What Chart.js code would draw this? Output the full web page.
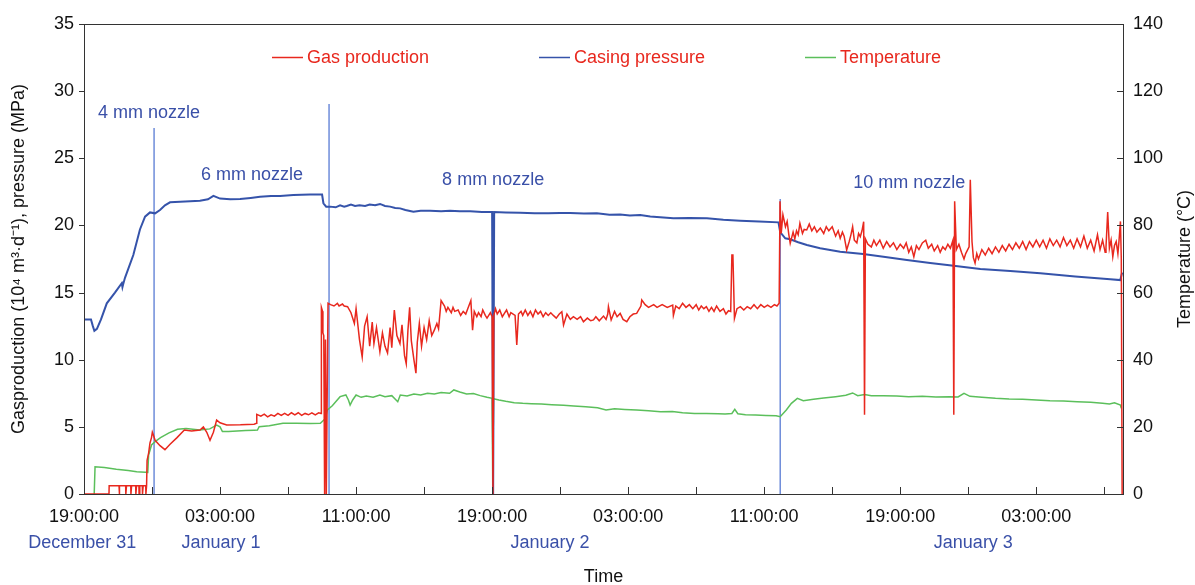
<!DOCTYPE html>
<html>
<head>
<meta charset="utf-8">
<title>Gas production, casing pressure and temperature</title>
<script src="https://cdn.jsdelivr.net/npm/chart.js@4.4.1/dist/chart.umd.min.js"></script>
<style>
  html, body { margin: 0; padding: 0; background: #fff; }
  #wrap { width: 1195px; height: 585px; }
</style>
</head>
<body>
<div id="wrap"><canvas id="chart"></canvas></div>
<script>
// x values are hours counted from 19:00:00 on December 31
const xTickHours = [0, 8, 16, 24, 32, 40, 48, 56];
const xTickLabels = ['19:00:00', '03:00:00', '11:00:00', '19:00:00', '03:00:00', '11:00:00', '19:00:00', '03:00:00'];
const minorTickHours = [0, 4, 8, 12, 16, 20, 24, 28, 32, 36, 40, 44, 48, 52, 56, 60];
const dayLabels = ['December 31', 'January 1', 'January 2', 'January 3'];
const dayLabelHours = [-0.1, 8.06, 27.4, 52.3];

const nozzleLabels = ['4 mm nozzle', '6 mm nozzle', '8 mm nozzle', '10 mm nozzle'];
const nozzleLabelHours = [0.82, 6.88, 21.06, 45.24];
const nozzleLabelLevels = [28.37, 23.75, 23.38, 23.16];

// thin vertical marks where the nozzle was changed
const changeHours = [4.12, 14.41, 40.94];
const changeTops = [27.26, 29.05, 21.97];

// gas production, 10^4 m3/d  [hour, value]
const gasProduction = [
  [0, 0], [1.47, 0], [1.48, 0.62], [2.06, 0.62], [2.07, 0], [2.10, 0.62], [2.45, 0.62], [2.46, 0], [2.50, 0.62],
  [2.75, 0.62], [2.76, 0], [2.80, 0.62], [3.04, 0.62], [3.05, 0], [3.09, 0.62], [3.23, 0.62], [3.24, 0], [3.28, 0.62],
  [3.43, 0.62], [3.44, 0], [3.48, 0.62], [3.63, 0.62], [3.64, 0], [3.68, 0.62], [3.70, 0.62], [3.71, 2.5],
  [3.80, 3.05], [3.88, 3.8], [3.97, 4.2], [4.02, 4.6], [4.08, 4.4], [4.18, 4.0], [4.47, 3.6], [4.76, 3.3],
  [5.06, 3.7], [5.47, 4.2], [5.90, 4.77], [6.33, 4.7], [6.82, 4.77], [7.02, 5.0], [7.22, 4.6], [7.41, 4.0],
  [7.61, 4.6], [7.80, 5.5], [8.00, 5.3], [8.39, 5.14], [9.20, 5.15], [10.00, 5.2], [10.15, 5.26], [10.16, 5.93],
  [10.4, 5.8], [10.6, 5.95], [10.8, 5.75], [11.0, 5.9], [11.2, 5.8], [11.4, 6.0], [11.6, 5.85], [11.8, 6.0],
  [12.0, 5.85], [12.2, 6.05], [12.4, 5.9], [12.6, 6.05], [12.8, 5.85], [13.0, 6.0], [13.2, 5.9], [13.4, 6.05],
  [13.6, 5.9], [13.8, 6.05], [13.94, 6.0], [13.96, 13.9], [14.03, 13.6], [14.05, 12.0], [14.10, 11.8], [14.15, 0],
  [14.20, 11.5], [14.25, 0], [14.35, 14.2], [14.5, 14.1], [14.7, 14.0], [14.9, 14.2], [15.0, 14.0], [15.2, 14.15],
  [15.3, 14.0], [15.5, 13.95], [15.7, 13.5], [15.9, 12.7], [16.0, 13.8], [16.2, 11.5], [16.36, 10.2], [16.5, 12.5],
  [16.65, 13.2], [16.8, 11.0], [16.95, 12.8], [17.05, 11.2], [17.2, 12.4], [17.4, 10.6], [17.55, 12.0], [17.7, 11.0],
  [17.85, 10.5], [18.0, 12.4], [18.1, 10.9], [18.25, 13.7], [18.4, 11.8], [18.58, 11.2], [18.7, 12.6], [18.85, 10.3],
  [18.95, 9.7], [19.05, 12.2], [19.15, 13.9], [19.25, 11.4], [19.4, 10.0], [19.52, 9.0], [19.6, 11.3], [19.72, 12.7],
  [19.85, 11.0], [20.0, 12.4], [20.15, 11.5], [20.3, 12.9], [20.45, 11.8], [20.6, 12.2], [20.75, 12.7], [20.85, 12.3],
  [21.0, 14.4], [21.2, 14.0], [21.3, 13.6], [21.4, 13.9], [21.6, 13.5], [21.7, 13.9], [21.8, 13.6], [22.0, 13.7],
  [22.15, 13.3], [22.3, 13.6], [22.45, 13.4], [22.6, 13.9], [22.75, 14.4], [22.85, 12.2], [22.95, 13.6], [23.1, 13.2],
  [23.2, 13.5], [23.35, 13.2], [23.45, 13.7], [23.6, 13.3], [23.7, 13.1], [23.9, 13.5], [24.0, 13.2], [24.05, 0],
  [24.1, 13.3], [24.2, 13.8], [24.3, 13.4], [24.45, 13.7], [24.6, 13.2], [24.75, 13.5], [24.85, 13.7], [25.0, 13.2],
  [25.1, 13.5], [25.35, 13.3], [25.45, 11.1], [25.55, 13.4], [25.7, 13.6], [25.8, 13.3], [25.95, 13.7], [26.1, 13.3],
  [26.25, 13.6], [26.4, 13.2], [26.55, 13.7], [26.7, 13.4], [26.85, 13.6], [27.0, 13.2], [27.15, 13.5], [27.3, 13.3],
  [27.45, 13.5], [27.6, 13.3], [27.77, 13.1], [27.95, 13.4], [28.1, 13.57], [28.2, 12.58], [28.4, 13.4], [28.6, 13.0],
  [28.78, 13.2], [29.0, 13.0], [29.2, 13.2], [29.37, 12.83], [29.6, 13.1], [29.8, 12.9], [29.96, 12.96], [30.1, 13.2],
  [30.3, 12.9], [30.55, 13.25], [30.7, 13.0], [30.8, 13.4], [30.84, 13.95], [31.0, 12.96], [31.2, 13.6], [31.35, 13.2],
  [31.53, 13.45], [31.7, 13.0], [31.92, 12.83], [32.1, 13.2], [32.3, 13.4], [32.5, 13.45], [32.75, 14.0], [32.8, 14.45],
  [33.0, 14.1], [33.2, 13.9], [33.5, 14.1], [33.7, 13.9], [34.0, 14.1], [34.3, 13.9], [34.62, 14.07], [34.66, 13.3],
  [34.8, 14.0], [35.0, 13.8], [35.2, 14.2], [35.4, 13.9], [35.6, 14.1], [35.8, 13.8], [36.0, 14.1], [36.15, 13.7],
  [36.3, 14.0], [36.45, 13.8], [36.6, 13.95], [36.75, 13.6], [36.9, 13.9], [37.05, 13.6], [37.2, 14.0], [37.4, 13.6],
  [37.6, 13.8], [37.75, 13.4], [37.9, 13.65], [38.03, 13.6], [38.1, 17.8], [38.16, 17.8], [38.25, 13.08], [38.4, 13.8],
  [38.6, 13.95], [38.8, 13.7], [39.0, 13.95], [39.2, 13.8], [39.4, 14.1], [39.6, 13.8], [39.8, 14.1], [40.0, 13.9],
  [40.2, 14.07], [40.4, 13.9], [40.6, 14.1], [40.75, 14.0], [40.88, 14.2], [40.93, 21.8], [41.0, 19.4], [41.1, 20.8],
  [41.25, 19.9], [41.35, 20.3], [41.45, 19.3], [41.53, 18.66], [41.7, 19.5], [41.8, 19.0], [41.9, 19.6], [42.0, 19.3],
  [42.1, 20.15], [42.25, 19.4], [42.35, 19.7], [42.5, 19.66], [42.65, 20.1], [42.8, 19.6], [42.95, 19.9], [43.1, 19.5],
  [43.3, 19.8], [43.5, 19.4], [43.65, 19.9], [43.8, 19.6], [44.0, 19.9], [44.2, 19.2], [44.35, 19.6], [44.47, 19.04],
  [44.6, 19.5], [44.7, 19.2], [44.85, 18.17], [45.0, 18.8], [45.1, 19.3], [45.2, 19.9], [45.3, 18.9], [45.45, 18.7],
  [45.55, 19.4], [45.65, 19.16], [45.75, 19.6], [45.85, 20.28], [45.9, 5.9], [45.95, 19.0], [46.1, 18.6], [46.3, 18.4],
  [46.45, 18.9], [46.6, 18.5], [46.8, 18.9], [47.0, 18.3], [47.2, 18.8], [47.4, 18.4], [47.6, 18.7], [47.8, 18.2],
  [48.0, 18.6], [48.2, 18.3], [48.35, 18.7], [48.5, 18.0], [48.65, 18.4], [48.8, 17.67], [48.95, 18.5], [49.1, 18.2],
  [49.3, 18.7], [49.5, 18.9], [49.65, 18.3], [49.85, 18.6], [50.0, 18.1], [50.2, 18.5], [50.35, 18.0], [50.5, 18.4],
  [50.65, 18.2], [50.8, 18.6], [50.95, 18.3], [51.1, 18.9], [51.15, 5.9], [51.2, 21.8], [51.3, 18.2], [51.45, 18.6],
  [51.6, 18.0], [51.75, 17.5], [51.85, 17.9], [52.05, 18.4], [52.12, 23.4], [52.22, 18.8], [52.3, 17.6], [52.4, 17.2],
  [52.5, 17.9], [52.6, 17.5], [52.8, 18.2], [53.0, 17.8], [53.2, 18.3], [53.4, 17.9], [53.6, 18.4], [53.8, 18.0],
  [54.0, 18.5], [54.2, 18.1], [54.4, 18.6], [54.6, 18.2], [54.8, 18.7], [55.0, 18.3], [55.2, 18.8], [55.4, 18.2],
  [55.6, 18.8], [55.8, 18.4], [56.0, 18.9], [56.2, 18.4], [56.4, 18.9], [56.6, 18.3], [56.8, 19.0], [57.0, 18.5],
  [57.2, 18.9], [57.4, 18.4], [57.6, 19.1], [57.8, 18.5], [58.0, 18.9], [58.2, 18.3], [58.4, 19.0], [58.6, 18.4],
  [58.8, 19.2], [59.0, 18.3], [59.2, 18.9], [59.4, 18.1], [59.6, 19.3], [59.75, 18.2], [59.9, 18.9], [60.05, 18.0],
  [60.1, 18.4], [60.2, 21.0], [60.3, 18.3], [60.4, 18.9], [60.5, 17.67], [60.6, 18.5], [60.7, 18.8], [60.8, 17.9],
  [60.85, 18.6], [60.95, 20.3], [61.0, 17.5], [61.05, 0]
];

// casing pressure, MPa  [hour, value]
const casingPressure = [
  [0, 13.0], [0.41, 13.0], [0.52, 12.5], [0.61, 12.15], [0.76, 12.3], [1.0, 13.0], [1.34, 14.2], [1.82, 15.0],
  [2.22, 15.7], [2.26, 15.4], [2.3, 15.6], [2.41, 16.1], [2.9, 17.8], [3.29, 19.7], [3.59, 20.65], [3.88, 20.97],
  [4.18, 20.9], [4.47, 21.15], [4.76, 21.5], [5.06, 21.72], [5.65, 21.77], [6.24, 21.8], [6.82, 21.84], [7.29, 21.95],
  [7.61, 22.2], [8.0, 22.0], [8.6, 21.95], [9.18, 21.96], [9.8, 22.05], [10.35, 22.14], [11.0, 22.2], [11.53, 22.2],
  [12.31, 22.26], [13.29, 22.3], [13.88, 22.31], [14.0, 22.3], [14.08, 21.65], [14.24, 21.4], [14.47, 21.4],
  [14.8, 21.35], [15.06, 21.5], [15.3, 21.4], [15.45, 21.45], [15.7, 21.55], [15.94, 21.45], [16.2, 21.5],
  [16.53, 21.45], [16.8, 21.55], [17.12, 21.5], [17.41, 21.6], [17.7, 21.45], [18.0, 21.4], [18.3, 21.3],
  [18.59, 21.27], [18.9, 21.15], [19.37, 21.02], [19.8, 21.1], [20.35, 21.1], [21.0, 21.05], [21.53, 21.1],
  [22.1, 21.05], [22.71, 21.05], [23.4, 21.0], [24.0, 21.0], [24.06, 0], [24.12, 21.0], [24.8, 20.97],
  [25.65, 20.95], [26.5, 20.9], [27.29, 20.9], [28.0, 20.93], [28.59, 20.92], [29.4, 20.88], [30.16, 20.9],
  [30.9, 20.8], [31.53, 20.82], [32.1, 20.74], [32.71, 20.77], [33.3, 20.66], [33.88, 20.6], [34.66, 20.53],
  [35.6, 20.55], [36.63, 20.53], [37.6, 20.42], [38.59, 20.35], [39.7, 20.3], [40.84, 20.23], [40.94, 19.5],
  [41.24, 19.04], [41.53, 18.97], [42.0, 18.75], [42.51, 18.54], [43.29, 18.3], [44.47, 18.04], [45.82, 17.87],
  [47.12, 17.65], [48.39, 17.42], [49.76, 17.2], [51.14, 17.0], [52.71, 16.75], [54.47, 16.6], [56.24, 16.43],
  [58.29, 16.2], [60.35, 16.0], [60.94, 15.93], [61.05, 16.5]
];

// temperature, degC  [hour, value]
const temperature = [
  [0.60, 0], [0.62, 0], [0.65, 8.1], [1.2, 7.9], [1.9, 7.4], [2.6, 7.0], [3.1, 6.65], [3.6, 6.5], [3.75, 6.45],
  [3.8, 11.6], [3.97, 14.6], [4.18, 15.6], [4.5, 16.8], [5.0, 18.2], [5.5, 19.3], [6.0, 19.5], [6.8, 19.1],
  [7.4, 19.4], [7.8, 20.55], [8.0, 20.0], [8.14, 18.6], [8.5, 18.6], [9.0, 18.8], [9.5, 18.9], [10.0, 19.0],
  [10.2, 19.06], [10.3, 20.05], [10.9, 20.3], [11.7, 21.06], [12.5, 21.1], [13.3, 21.0], [13.9, 21.06],
  [14.2, 22.5], [14.3, 25.0], [14.6, 26.3], [15.06, 29.0], [15.4, 29.5], [15.55, 28.0], [15.65, 26.5],
  [15.8, 28.0], [16.0, 29.5], [16.3, 28.8], [16.6, 29.2], [17.0, 28.8], [17.4, 29.5], [17.7, 29.0], [18.1, 29.3],
  [18.45, 27.5], [18.6, 29.5], [19.0, 29.2], [19.4, 29.8], [19.8, 29.5], [20.2, 30.0], [20.6, 29.8], [21.0, 30.2],
  [21.5, 30.0], [21.75, 31.0], [22.1, 30.4], [22.5, 29.8], [22.9, 29.9], [23.3, 29.3], [23.7, 28.8], [24.0, 28.5],
  [24.04, 0], [24.08, 28.4], [24.4, 28.0], [24.8, 27.6], [25.3, 27.2], [25.8, 27.0], [26.3, 26.9], [26.9, 26.8],
  [27.5, 26.6], [28.2, 26.4], [28.8, 26.2], [29.5, 26.0], [30.2, 25.7], [30.7, 25.0], [31.2, 25.4], [31.8, 25.2],
  [32.5, 25.0], [33.2, 24.8], [33.9, 24.5], [34.6, 24.6], [35.2, 24.2], [35.9, 24.0], [36.6, 24.0], [37.3, 23.9],
  [37.7, 23.8], [38.1, 24.0], [38.27, 25.2], [38.45, 23.9], [38.9, 23.6], [39.5, 23.5], [40.1, 23.4], [40.7, 23.3],
  [40.94, 23.0], [41.3, 25.0], [41.6, 27.0], [41.95, 28.5], [42.3, 27.8], [42.9, 28.2], [43.5, 28.6], [44.2, 29.0],
  [44.8, 29.4], [45.2, 30.1], [45.5, 29.3], [45.9, 29.6], [46.3, 29.3], [47.0, 29.3], [47.8, 29.2], [48.5, 29.0],
  [49.3, 29.1], [50.1, 28.9], [50.9, 29.0], [51.4, 28.9], [51.75, 30.0], [52.1, 29.1], [52.8, 28.8], [53.6, 28.5],
  [54.4, 28.3], [55.2, 28.2], [56.0, 28.0], [56.8, 27.8], [57.6, 27.7], [58.4, 27.5], [59.2, 27.3], [59.9, 27.0],
  [60.3, 26.8], [60.6, 27.2], [60.95, 26.5], [61.0, 25.5]
];

const RED = '#e8281e';
const BLUE = '#3553aa';
const GREEN = '#5bbf5b';
const LABEL_BLUE = '#3a50a8';
const FONT = '"Liberation Sans", Arial, sans-serif';

function toPoints(series) {
  return series.map(p => ({ x: p[0], y: p[1] }));
}

// frame, inner tick marks and all free text
const decorations = {
  id: 'decorations',
  afterDatasetsDraw(chart) {
    const { ctx, chartArea: a, scales } = chart;
    const x = scales.x, y = scales.y, y2 = scales.y2;
    ctx.save();
    ctx.strokeStyle = '#333';
    ctx.lineWidth = 1;
    ctx.strokeRect(a.left + 0.5, a.top + 0.5, a.right - a.left, a.bottom - a.top);
    ctx.beginPath();
    minorTickHours.forEach(h => {
      const px = Math.round(x.getPixelForValue(h)) + 0.5;
      ctx.moveTo(px, a.bottom);
      ctx.lineTo(px, a.bottom - 7);
    });
    y.ticks.forEach(t => {
      const py = Math.round(y.getPixelForValue(t.value)) + 0.5;
      ctx.moveTo(a.left - 5, py);
      ctx.lineTo(a.left, py);
    });
    y2.ticks.forEach(t => {
      const py = Math.round(y2.getPixelForValue(t.value)) + 0.5;
      ctx.moveTo(a.right - 6, py);
      ctx.lineTo(a.right, py);
    });
    ctx.stroke();

    ctx.font = '18px ' + FONT;
    ctx.textBaseline = 'middle';

    // date line under the time labels
    ctx.textAlign = 'center';
    ctx.fillStyle = LABEL_BLUE;
    dayLabels.forEach((s, i) => ctx.fillText(s, x.getPixelForValue(dayLabelHours[i]), 543));
    ctx.fillStyle = '#111';
    ctx.fillText('Time', (a.left + a.right) / 2, 577);

    // nozzle notes
    ctx.textAlign = 'left';
    ctx.fillStyle = LABEL_BLUE;
    nozzleLabels.forEach((s, i) => {
      ctx.fillText(s, x.getPixelForValue(nozzleLabelHours[i]), y.getPixelForValue(nozzleLabelLevels[i]));
    });

    // legend: coloured line, red text
    const legendX = [272, 539, 805];
    chart.data.datasets.slice(0, 3).forEach((ds, i) => {
      ctx.strokeStyle = ds.borderColor;
      ctx.lineWidth = 1.5;
      ctx.beginPath();
      ctx.moveTo(legendX[i], 57.5);
      ctx.lineTo(legendX[i] + 31, 57.5);
      ctx.stroke();
      ctx.fillStyle = RED;
      ctx.fillText(ds.label, legendX[i] + 35, 58);
    });

    // axis titles
    ctx.fillStyle = '#111';
    ctx.textAlign = 'center';
    ctx.save();
    ctx.translate(19, (a.top + a.bottom) / 2);
    ctx.rotate(-Math.PI / 2);
    ctx.fillText('Gasproduction (10\u2074 m\u00b3\u00b7d\u207b\u00b9), pressure (MPa)', 0, 0);
    ctx.restore();
    ctx.save();
    ctx.translate(1185, (a.top + a.bottom) / 2);
    ctx.rotate(-Math.PI / 2);
    ctx.fillText('Temperature (\u00b0C)', 0, 0);
    ctx.restore();
    ctx.restore();
  }
};

const changeSets = changeHours.map((h, i) => ({
  label: 'nozzle change',
  data: [{ x: h, y: 0 }, { x: h, y: changeTops[i] }],
  borderColor: '#4a6fd0',
  borderWidth: 1.2,
  yAxisID: 'y'
}));

new Chart(document.getElementById('chart'), {
  type: 'line',
  data: {
    datasets: [
      { label: 'Gas production', data: toPoints(gasProduction), borderColor: RED, borderWidth: 1.5, yAxisID: 'y' },
      { label: 'Casing pressure', data: toPoints(casingPressure), borderColor: BLUE, borderWidth: 2, yAxisID: 'y' },
      { label: 'Temperature', data: toPoints(temperature), borderColor: GREEN, borderWidth: 1.5, yAxisID: 'y2' },
      ...changeSets
    ]
  },
  options: {
    responsive: true,
    maintainAspectRatio: false,
    animation: false,
    events: [],
    layout: { padding: { top: 24, left: 0, right: 0, bottom: 0 } },
    elements: { point: { radius: 0 }, line: { tension: 0 } },
    plugins: { legend: { display: false }, tooltip: { enabled: false } },
    scales: {
      x: {
        type: 'linear',
        min: 0,
        max: 61.1,
        grid: { display: false, drawTicks: false },
        border: { display: false },
        afterBuildTicks: s => { s.ticks = xTickHours.map(v => ({ value: v })); },
        afterFit: s => { s.height = 91; },
        ticks: {
          autoSkip: false,
          maxRotation: 0,
          padding: 12,
          color: '#111',
          font: { family: FONT, size: 18 },
          callback: v => xTickLabels[xTickHours.indexOf(v)] || ''
        }
      },
      y: {
        position: 'left',
        min: 0,
        max: 35,
        grid: { display: false, drawTicks: false },
        border: { display: false },
        afterFit: s => { s.width = 84; },
        ticks: { stepSize: 5, padding: 10, color: '#111', font: { family: FONT, size: 18 } }
      },
      y2: {
        position: 'right',
        min: 0,
        max: 140,
        grid: { display: false, drawTicks: false },
        border: { display: false },
        afterFit: s => { s.width = 72; },
        ticks: { stepSize: 20, padding: 10, color: '#111', font: { family: FONT, size: 18 } }
      }
    }
  },
  plugins: [decorations]
});
</script>
</body>
</html>
